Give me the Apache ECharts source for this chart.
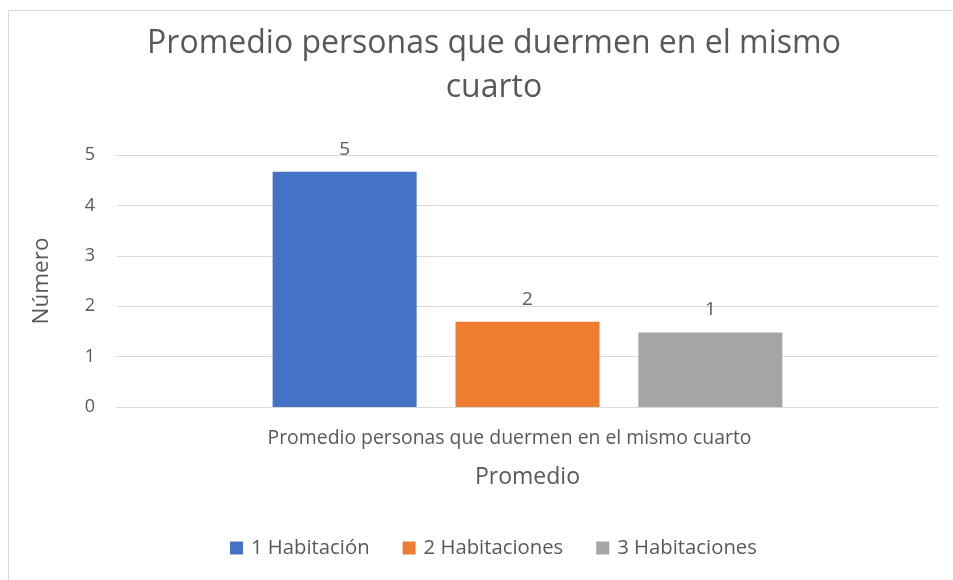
<!DOCTYPE html>
<html>
<head>
<meta charset="utf-8">
<script src="https://cdn.jsdelivr.net/npm/echarts@6/dist/echarts.min.js"></script>
<style>
    html, body {margin: 0; padding: 0; background: #fff;}
    #chart {width: 953px; height: 580px;}
</style>
</head>
<body>
<div id="chart"></div>
<script>
// datos del gráfico
var categorias = ['Promedio personas que duermen en el mismo cuarto'];
var series_nombres = ['1 Habitación', '2 Habitaciones', '3 Habitaciones'];
var series_valores = [[4.67], [1.69], [1.48]];
var colores = ['#4472c4', '#ed7d31', '#a5a5a5'];
var y_ticks = [0, 1, 2, 3, 4, 5];

var fuente = 'Open Sans';
var gris = '#595959';

var chart = echarts.init(document.getElementById('chart'));

// una serie por cada número de habitaciones
var series = [];
for (var i = 0; i < series_nombres.length; i++) {
    series.push({
        name: series_nombres[i],
        type: 'bar',
        data: series_valores[i],
        barWidth: 144,
        barGap: '27%',
        itemStyle: {color: colores[i]},
        label: {
            show: true,
            position: 'top',
            distance: 13,
            color: gris,
            fontFamily: fuente,
            fontSize: 19,
            formatter: function (p) {
                return Math.round(p.value);
            }
        }
    });
}

var option = {
    backgroundColor: '#fff',
    animation: false,
    textStyle: {fontFamily: fuente},
    title: {
        text: 'Promedio personas que duermen en el mismo\ncuarto',
        left: 489,
        textAlign: 'center',
        top: 17,
        textStyle: {
            fontFamily: fuente,
            fontSize: 32,
            fontWeight: 'normal',
            color: gris,
            lineHeight: 44
        }
    },
    graphic: [{
        type: 'rect',
        shape: {x: 8.5, y: 10.5, width: 980, height: 620},
        style: {fill: 'none', stroke: '#d9d9d9', lineWidth: 1},
        silent: true
    }],
    legend: {
        data: series_nombres,
        bottom: 17,
        left: 225,
        itemWidth: 13,
        itemHeight: 13,
        itemGap: 33,
        icon: 'rect',
        textStyle: {fontFamily: fuente, fontSize: 20.3, color: gris, padding: [0, 0, 0, 3]}
    },
    grid: {
        left: 117,
        right: 15,
        top: 155,
        bottom: 173
    },
    xAxis: {
        type: 'category',
        data: categorias,
        name: 'Promedio',
        nameLocation: 'middle',
        nameGap: 59,
        nameTextStyle: {fontFamily: fuente, fontSize: 23, color: gris},
        axisLine: {lineStyle: {color: '#d9d9d9'}},
        axisTick: {show: false},
        axisLabel: {fontFamily: fuente, fontSize: 19.4, color: gris, margin: 22, padding: [0, 36, 0, 0]}
    },
    yAxis: {
        type: 'value',
        min: y_ticks[0],
        max: y_ticks[y_ticks.length - 1],
        interval: 1,
        name: 'Número',
        nameLocation: 'middle',
        nameGap: 64,
        nameTextStyle: {fontFamily: fuente, fontSize: 22.5, color: gris},
        axisLine: {show: false},
        axisTick: {show: false},
        axisLabel: {fontFamily: fuente, fontSize: 18, color: gris, margin: 22},
        splitLine: {lineStyle: {color: '#d9d9d9', width: 1}}
    },
    series: series
};

chart.setOption(option);
</script>
</body>
</html>
